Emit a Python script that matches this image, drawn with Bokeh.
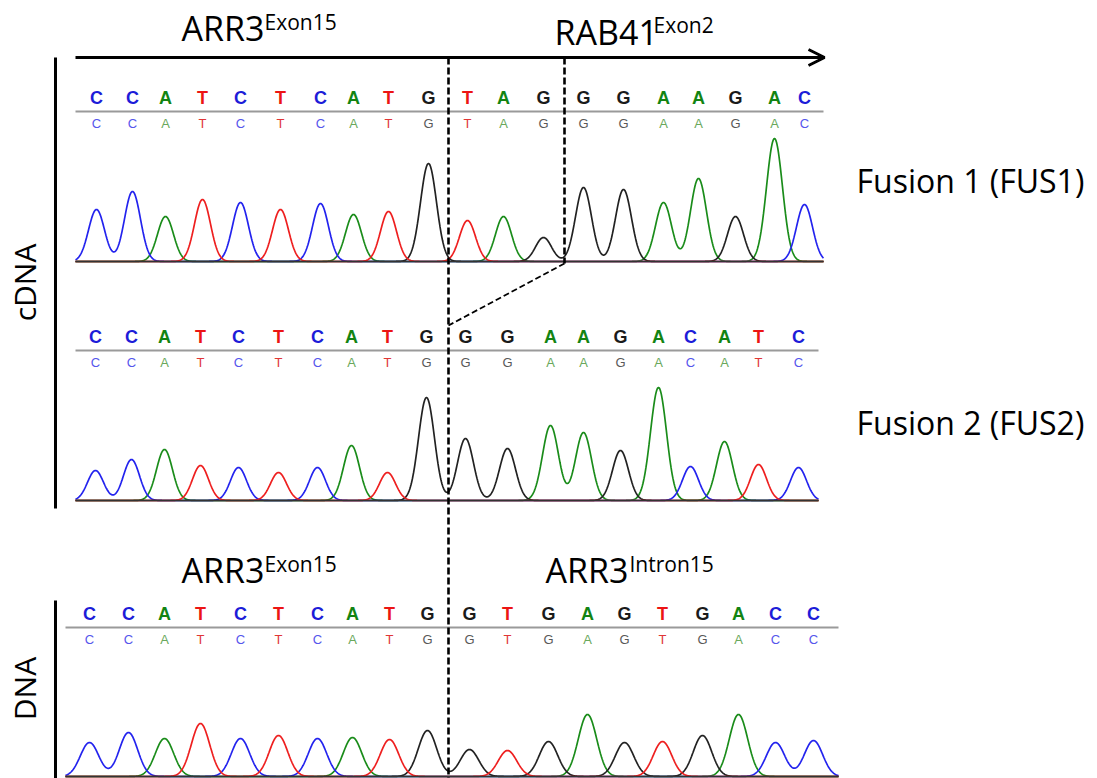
import numpy as np
from bokeh.plotting import figure
from bokeh.models import Range1d, Arrow, OpenHead, ColumnDataSource
from bokeh.core.properties import value
from bokeh.embed import file_html
from bokeh.resources import INLINE

# ---------------- data ----------------
# Fusion 1 (cDNA)
fus1_bases = list("CCATCTCATGTAGGGAAGAC")
fus1_scan = [96, 132, 165, 202, 240, 280, 320, 353, 388, 428,
             467, 503, 543, 583, 623, 663, 698, 735, 774, 804]
fus1_signal = [52, 70, 45, 62, 59, 52, 58, 47, 50, 98,
               41, 45, 24, 74, 72, 59, 83, 45, 123, 57]

# Fusion 2 (cDNA)
fus2_bases = list("CCATCTCATGGGAAGACATC")
fus2_scan = [95, 131, 164, 200, 238, 278, 317, 351, 387, 426,
             465, 507, 550, 583, 620, 658, 690, 724, 758, 798]
fus2_signal = [30, 41, 51, 35, 33, 28, 33, 55, 28, 103,
               62, 52, 75, 68, 50, 113, 34, 59, 36, 33]

# Genomic DNA
dna_bases = list("CCATCTCATGGTGAGTGACC")
dna_scan = [89, 128, 164, 200, 240, 278, 317, 352, 389, 427,
            469, 507, 548, 587, 624, 662, 702, 738, 775, 813]
dna_signal = [34, 44, 38, 53, 38, 41, 38, 39, 37, 46,
              27, 26, 35, 62, 34, 35, 41, 62, 34, 36]

base_order = ["A", "C", "G", "T"]
trace_colors = {"C": "#2323ee", "A": "#1a8c1a", "T": "#ee1f1f", "G": "#222222"}
call_colors = {"C": "#1c1cd8", "A": "#128412", "T": "#ec1414", "G": "#1a1a1a"}
seq_colors = {"C": "#5656ec", "A": "#6aa85c", "T": "#e03636", "G": "#585858"}

# ---------------- figure ----------------
W, H = 1097, 778
p = figure(width=W, height=H, x_range=Range1d(0, W), y_range=Range1d(H, 0),
           x_axis_type=None, y_axis_type=None, toolbar_location=None,
           output_backend="svg", min_border=0)
p.grid.visible = False
p.outline_line_color = None
p.background_fill_color = "white"
p.border_fill_color = "white"

panels = [
    # bases, scan, signal, baseline y, gray rule y, x start, x end, sigma
    (fus1_bases, fus1_scan, fus1_signal, 261, 111, 75, 823, 8.0),
    (fus2_bases, fus2_scan, fus2_signal, 500, 350, 75, 818, 8.0),
    (dna_bases, dna_scan, dna_signal, 776, 627, 65, 838, 9.2),
]

for bases, scan, signal, base_y, rule_y, x0, x1, sig in panels:
    xs = np.arange(x0, x1 + 0.25, 0.5)
    for b in base_order:
        ys = np.zeros_like(xs)
        for pos, h, bb in zip(scan, signal, bases):
            if bb == b:
                ys += h * np.exp(-((xs - pos) ** 2) / (2 * sig ** 2))
        p.line(xs, base_y - ys, line_color=trace_colors[b], line_width=1.7)
    p.line([x0, x1], [base_y, base_y], line_color="#333333", line_width=1.6)
    p.line([x0, x1], [rule_y, rule_y], line_color="#9a9a9a", line_width=2)
    src = ColumnDataSource(dict(
        x=scan, yb=[rule_y - 14] * len(scan), ys=[rule_y + 12] * len(scan),
        t=bases, cb=[call_colors[b] for b in bases],
        cs=[seq_colors[b] for b in bases]))
    p.text(x="x", y="yb", text="t", source=src, text_color="cb",
           text_font=value("Liberation Sans"), text_font_style="bold",
           text_font_size=value("18px"), text_align="center",
           text_baseline="middle")
    p.text(x="x", y="ys", text="t", source=src, text_color="cs",
           text_font=value("Liberation Sans"),
           text_font_size=value("13px"), text_align="center",
           text_baseline="middle")

# junction markers
p.line([448, 448], [57, 778], line_color="black", line_width=2.6, line_dash="7 3")
p.line([564, 564], [57, 263], line_color="black", line_width=2.6, line_dash="7 3")
p.line([564, 448], [263, 325], line_color="black", line_width=1.8, line_dash="6 3")

# direction arrow
p.add_layout(Arrow(end=OpenHead(size=16, line_width=3, line_color="black"),
                   x_start=75, y_start=57, x_end=824, y_end=57,
                   line_width=3, line_color="black"))

# side bars
p.line([55, 55], [57, 508], line_color="black", line_width=3)
p.line([55, 55], [600, 778], line_color="black", line_width=3)

font = value("Open Sans")


def label(x, y, txt, size, **kw):
    p.text(x=[x], y=[y], text=[txt], text_font=font,
           text_font_size=value(size), text_color="black", **kw)


# gene labels with superscripts
label(181, 27, "ARR3", "34px", text_baseline="alphabetic")
label(264, 21, "Exon15", "21px", text_baseline="alphabetic")
label(554, 31, "RAB41", "34px", text_baseline="alphabetic")
label(653, 24, "Exon2", "21px", text_baseline="alphabetic")
label(181, 569, "ARR3", "34px", text_baseline="alphabetic")
label(264, 563, "Exon15", "21px", text_baseline="alphabetic")
label(545, 569, "ARR3", "34px", text_baseline="alphabetic")
label(629, 563, "Intron15", "21px", text_baseline="alphabetic")

# fusion names
label(856, 180, "Fusion 1 (FUS1)", "32px", text_baseline="alphabetic")
label(856, 422, "Fusion 2 (FUS2)", "32px", text_baseline="alphabetic")

# vertical labels
label(24, 282, "cDNA", "30px", text_align="center", text_baseline="middle",
      angle=np.pi / 2)
label(24, 688, "DNA", "30px", text_align="center", text_baseline="middle",
      angle=np.pi / 2)

open("out.html", "w").write(file_html(p, INLINE))
